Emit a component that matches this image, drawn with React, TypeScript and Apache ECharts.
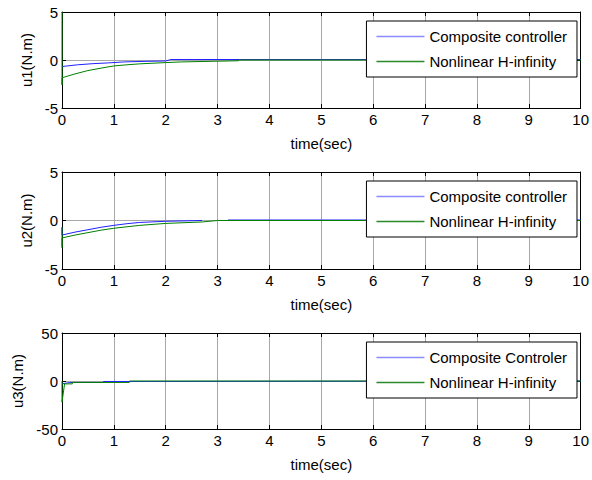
import React, { useEffect, useRef } from "react";
import * as echarts from "echarts";

// ---- Data ----
const xTicks = [0, 1, 2, 3, 4, 5, 6, 7, 8, 9, 10];
const yLabels = ["u1(N.m)", "u2(N.m)", "u3(N.m)"];
const yLimits = [5, 5, 50];
const compositeNames = ["Composite controller", "Composite controller", "Composite Controler"];
const hinfName = "Nonlinear H-infinity";

// u1
const u1CompositeT = [0, 0.3, 0.6, 0.9, 1.2, 1.6, 2.0, 2.1, 10];
const u1CompositeV = [-0.68, -0.5, -0.38, -0.3, -0.2, -0.14, -0.1, 0.05, 0.05];
const u1HinfT = [0, 0, 0, 0.25, 0.5, 0.75, 1, 1.25, 1.5, 2, 2.3, 3.4, 3.4, 10];
const u1HinfV = [5, -2.6, -1.85, -1.45, -1.1, -0.85, -0.62, -0.5, -0.4, -0.27, -0.2, -0.08, 0, 0];

// u2
const u2CompositeT = [0, 0, 0.25, 0.5, 0.75, 1, 1.25, 1.5, 2, 2.7, 2.75, 3.2, 10];
const u2CompositeV: (number | string)[] = [-0.7, -1.5, -1.2, -0.95, -0.7, -0.5, -0.33, -0.2, -0.08, 0, "-", 0.05, 0.05];
const u2HinfT = [0, 0, 0, 0.25, 0.5, 0.75, 1, 1.5, 2, 2.7, 3, 10];
const u2HinfV = [-0.7, -2.8, -1.8, -1.5, -1.25, -1.0, -0.8, -0.5, -0.3, -0.15, 0, 0];

// u3
const u3CompositeT = [0, 0.1, 0.2, 0.8, 0.8, 1.3, 1.3, 10];
const u3CompositeV = [-3, -2, -1.5, -1.5, -0.5, -0.5, 0, 0];
const u3HinfT = [0, 0, 0.05, 0.2, 0.2, 1.3, 1.3, 10];
const u3HinfV = [0, -22, -3, -3, -1.5, -1.5, 0, 0];

const compositeT = [u1CompositeT, u2CompositeT, u3CompositeT];
const compositeV = [u1CompositeV, u2CompositeV, u3CompositeV];
const hinfT = [u1HinfT, u2HinfT, u3HinfT];
const hinfV = [u1HinfV, u2HinfV, u3HinfV];

const zip = (t: number[], v: (number | string)[]) => t.map((x, i) => [x, v[i]]);

export default function App() {
  const ref = useRef<HTMLDivElement>(null);
  useEffect(() => {
    if (!ref.current) return;
    const chart = echarts.init(ref.current, null, { renderer: "svg" });
    const font = "'Liberation Sans', Arial, sans-serif";
    const gridTops = [12, 172, 333];
    const gridHeights = [96, 97, 96];
    const grids: any[] = [];
    const xAxes: any[] = [];
    const yAxes: any[] = [];
    const series: any[] = [];
    const legends: any[] = [];
    for (let i = 0; i < 3; i++) {
      grids.push({ left: 62, top: gridTops[i], width: 520, height: gridHeights[i] });
      const lim = yLimits[i];
      const tickCommon = { show: true, inside: true, length: 4, lineStyle: { color: "#000" } };
      xAxes.push({
        type: "value", gridIndex: i, position: "bottom", min: 0, max: 10, interval: 1,
        axisLine: { show: true, onZero: false, lineStyle: { color: "#000", width: 1 } },
        axisTick: tickCommon,
        axisLabel: { color: "#000", fontFamily: font, fontSize: 15, margin: 4 },
        splitLine: { show: true, lineStyle: { color: "#a8a8a8", width: 1 } },
        name: "time(sec)", nameLocation: "middle", nameGap: 28,
        nameTextStyle: { color: "#000", fontFamily: font, fontSize: 15 },
      });
      xAxes.push({
        type: "value", gridIndex: i, position: "top", min: 0, max: 10, interval: 1,
        axisLine: { show: true, onZero: false, lineStyle: { color: "#000", width: 1 } },
        axisTick: tickCommon, axisLabel: { show: false }, splitLine: { show: false },
      });
      yAxes.push({
        type: "value", gridIndex: i, position: "left", min: -lim, max: lim, interval: lim,
        axisLine: { show: true, onZero: false, lineStyle: { color: "#000", width: 1 } },
        axisTick: tickCommon,
        axisLabel: { color: "#000", fontFamily: font, fontSize: 15, margin: 4 },
        splitLine: { show: true, lineStyle: { color: "#a8a8a8", width: 1 } },
        name: yLabels[i], nameLocation: "middle", nameGap: 26, nameRotate: 90,
        nameTextStyle: { color: "#000", fontFamily: font, fontSize: 15 },
      });
      yAxes.push({
        type: "value", gridIndex: i, position: "right", min: -lim, max: lim, interval: lim,
        axisLine: { show: true, onZero: false, lineStyle: { color: "#000", width: 1 } },
        axisTick: tickCommon, axisLabel: { show: false }, splitLine: { show: false },
      });
      series.push({
        type: "line", name: compositeNames[i], xAxisIndex: 2 * i, yAxisIndex: 2 * i,
        data: zip(compositeT[i], compositeV[i]), symbol: "none", clip: false,
        connectNulls: false,
        lineStyle: { color: "#2020ff", width: 1 }, itemStyle: { color: "#2020ff" }, z: 3,
      });
      series.push({
        type: "line", name: hinfName, xAxisIndex: 2 * i, yAxisIndex: 2 * i,
        data: zip(hinfT[i], hinfV[i]), symbol: "none", clip: false,
        lineStyle: { color: "#008000", width: 1 }, itemStyle: { color: "#008000" }, z: 4,
      });
      legends.push({
        top: gridTops[i] + 9, right: 15, orient: "vertical",
        backgroundColor: "#fff", borderColor: "#000", borderWidth: 1, borderRadius: 0,
        padding: [8, 10, 8, 10], itemWidth: 48, itemHeight: 1.6, itemGap: 10,
        textStyle: { color: "#000", fontFamily: font, fontSize: 15, lineHeight: 14 },
        selectedMode: false,
        data: [
          { name: compositeNames[i], icon: "rect", itemStyle: { color: "#8c8cff", borderWidth: 0 } },
          { name: hinfName, icon: "rect", itemStyle: { color: "#2a8a2a", borderWidth: 0 } },
        ],
        z: 10,
      });
    }
    chart.setOption({
      animation: false,
      backgroundColor: "#fff",
      grid: grids,
      xAxis: xAxes,
      yAxis: yAxes,
      legend: legends,
      series,
    });
    return () => chart.dispose();
  }, []);
  return <div ref={ref} style={{ width: 592, height: 480, position: "absolute", left: 0, top: 0 }} />;
}
